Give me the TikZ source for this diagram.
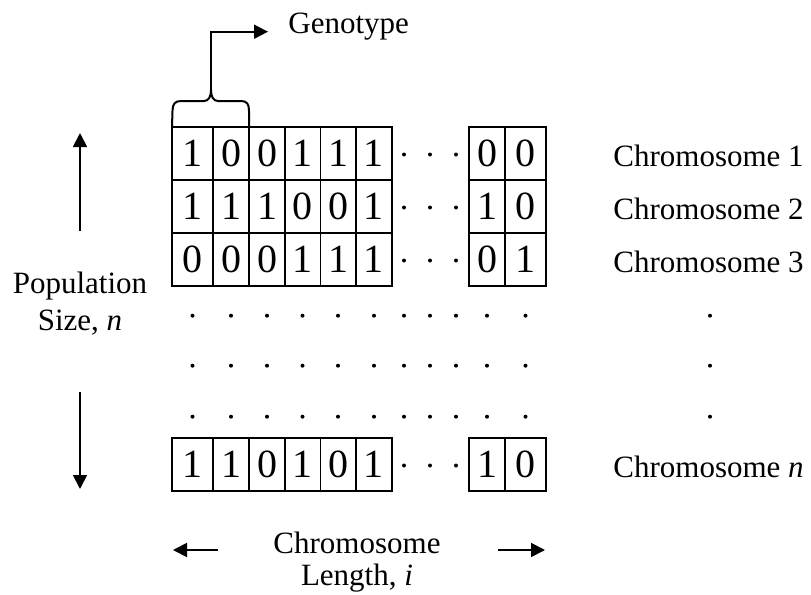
\documentclass[tikz,border=0pt]{standalone}
\usepackage{fontspec}
\setmainfont{Liberation Serif}
\usetikzlibrary{arrows.meta,positioning}

\begin{document}
\begin{tikzpicture}[
  x=0.5pt,y=-0.5pt,
  >={Triangle[length=7pt,width=7pt]},
  cell/.style={draw,line width=0.6pt,inner sep=0pt,outer sep=0pt,minimum height=26.5pt,
    font=\fontsize{20}{24}\selectfont},
  genobox/.style={draw,line width=1.2pt},
  brace/.style={line width=1pt,line join=round},
  axis/.style={->,line width=0.9pt},
  label/.style={inner sep=0pt,font=\fontsize{15.5}{18.5}\selectfont},
  dot/.style={circle,fill=black,inner sep=0pt,minimum size=2pt}
]
\useasboundingbox (0,0) rectangle (811,595);

% chromosome rows: row name / centre line / bits / label
\foreach \r/\yc/\bits/\lab in {1/153.5/{1,0,0,1,1,1,0,0}/1,
                               2/206.5/{1,1,1,0,0,1,1,0}/2,
                               3/259.5/{0,0,0,1,1,1,0,1}/3,
                               n/464.5/{1,1,0,1,0,1,1,0}/\textit{n}}{
  \foreach \xl/\xr [count=\c] in {172/213,213/249,249/285,285/320.5,320.5/356,356/392,469/505,505/546}{
    \pgfmathtruncatemacro\bit{{\bits}[\c-1]}
    \node[cell,minimum width=(\xr-\xl)*0.5pt] (c\r-\c) at ({(\xl+\xr)/2},\yc) {\bit};
  }
  \foreach \xx [count=\k] in {404,430,456}
    \node[dot] (g\r-\k) at (\xx,\yc+1) {};
  \node[label,anchor=base west] (chr\r) at (613,\yc+13) {Chromosome \lab};
}

% rows left out
\foreach \yy [count=\r] in {315.7,365.7,416.7}
  \foreach \xx [count=\k] in {192.5,231,267,302.5,338,374,404,430,456,487,525.5,710}
    \node[dot] (v\r-\k) at (\xx,\yy) {};

% genotype
\draw[genobox] (c1-1.north west) rectangle (c1-2.south east);
\coordinate (tip) at (211,90);
\draw[brace] (c1-1.north west) -- (172.5,111) .. controls (172.5,104) and (175,101) .. (181,101)
  -- (204,101) .. controls (208.5,101) and (211,97) .. (tip)
  .. controls (211,97) and (213.5,101) .. (218,101)
  -- (241,101) .. controls (247,101) and (249,104) .. (249,111) -- (c1-2.north east);
\node[label,anchor=base west] (geno) at (288,33.3) {Genotype};
\draw[axis] (tip) |- ([shift={(-20,-1.6)}]geno.base west);

% population size
\node[label,align=center,anchor=base] (pop) at (80,330) {Population\\Size, \textit{n}};
\coordinate (upA) at (80,231);
\coordinate (upB) at (80,133);
\coordinate (dnA) at (80,392);
\coordinate (dnB) at (80,489);
\draw[axis] (upA) -- (upB);
\draw[axis] (dnA) -- (dnB);

% chromosome length
\node[label,align=center,anchor=base,font=\fontsize{15.5}{16}\selectfont] (len) at (357,585) {Chromosome\\Length, \textit{i}};
\coordinate (lfA) at (218,550);
\coordinate (lfB) at (173,550);
\coordinate (rtA) at (498,550);
\coordinate (rtB) at (545,550);
\draw[axis] (lfA) -- (lfB);
\draw[axis] (rtA) -- (rtB);
\end{tikzpicture}
\end{document}
